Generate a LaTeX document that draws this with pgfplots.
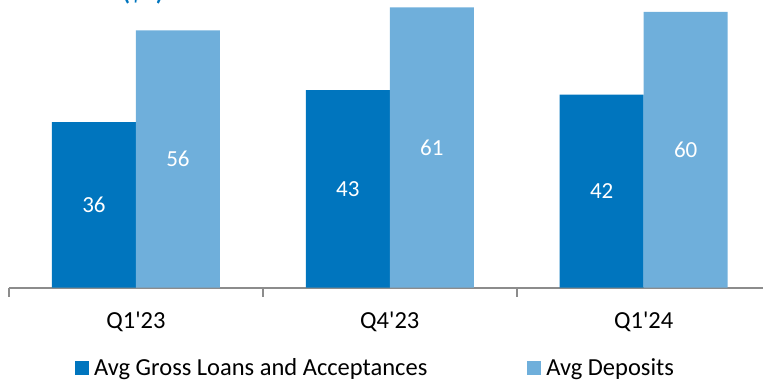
\documentclass[border=0pt]{standalone}
\usepackage{pgfplots}
\pgfplotsset{compat=1.18}
\usepackage{fontspec}
\setmainfont{Carlito}
\definecolor{dblue}{RGB}{0,117,190}
\definecolor{lblue}{RGB}{111,175,219}
\definecolor{axgray}{RGB}{140,140,140}
\begin{document}
\begin{tikzpicture}[x=1pt,y=1pt]
\useasboundingbox (0,0) rectangle (763,383);
\node[anchor=base, text=dblue, font=\bfseries\fontsize{24}{28}\selectfont] at (143,382) {(\$B)};
\begin{axis}[
  at={(9pt,95.5pt)}, anchor=south west,
  scale only axis, width=754pt, height=287.5pt,
  xmin=-0.5, xmax=2.47, ymin=0, ymax=62.6,
  axis y line=none, axis x line*=bottom,
  axis line style={draw=axgray, line width=2pt},
  xtick={0,1,2}, xticklabels={Q1\textquotesingle23,Q4\textquotesingle23,Q1\textquotesingle24},
  major tick length=0pt,
  minor xtick={-0.5,0.5,1.5},
  minor tick length=9pt,
  tick align=outside,
  minor tick style={draw=axgray, line width=2pt},
  xticklabel style={anchor=center, yshift=-34.5pt, font=\fontsize{24.5}{28}\selectfont, text=black},
  ybar=0pt, bar width=84pt,
  clip=false,
  /pgf/number format/assume math mode=true,
  nodes near coords,
  visualization depends on={y \as \rawy},
  every node near coord/.append style={anchor=center, text=white, font=\fontsize{23}{27}\selectfont, shift={(axis direction cs:0,-\rawy/2)}},
  legend columns=2,
  legend style={at={(0.0875,-0.28)}, anchor=west, draw=none, fill=none, inner sep=0pt, font=\fontsize{24.5}{28}\selectfont,
    /tikz/every odd column/.append style={column sep=3pt},
    /tikz/every even column/.append style={column sep=98pt}},
  legend image code/.code={\fill[#1] (0pt,-7pt) rectangle (14pt,7pt);},
]
\addplot[draw=none, fill=dblue] coordinates {(0,36) (1,43) (2,42)};
\addplot[draw=none, fill=lblue] coordinates {(0,56) (1,61) (2,60)};
\legend{Avg Gross Loans and Acceptances, Avg Deposits}
\end{axis}
\end{tikzpicture}
\end{document}
